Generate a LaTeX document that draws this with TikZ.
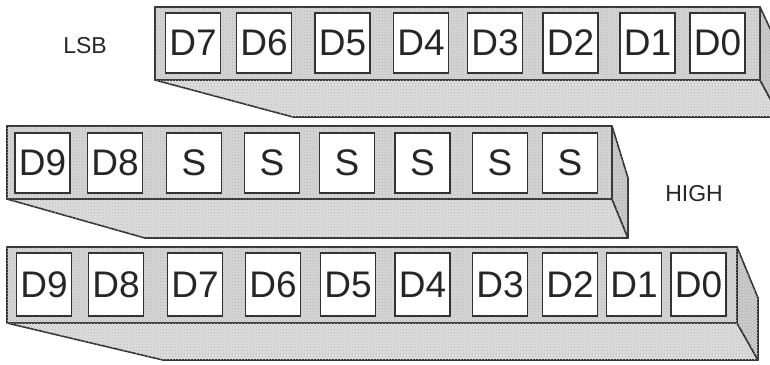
\documentclass[tikz,border=0pt]{standalone}
\usepackage{fontspec}
\setmainfont{Liberation Sans}
\usetikzlibrary{patterns}
\begin{document}
\begin{tikzpicture}[x=1pt,y=-1pt,
  face/.style={draw=black!80,line width=1.6pt,line join=round,fill=black!16,postaction={pattern=crosshatch dots,pattern color=black!30}},
  bface/.style={draw=black!80,line width=1.6pt,line join=round,fill=black!13,postaction={pattern=crosshatch dots,pattern color=black!28}},
  sface/.style={draw=black!80,line width=1.6pt,line join=round,fill=black!20,postaction={pattern=crosshatch dots,pattern color=black!35}},
  bit/.style={draw=black!80,line width=1.5pt,fill=white,text=black!85,minimum width=55pt,inner sep=0pt,font=\fontsize{37}{37}\selectfont},
  lbl/.style={text=black!85,font=\fontsize{23}{23}\selectfont}]
\useasboundingbox (0,0) rectangle (770,364);
\begin{scope}
\clip (0,0) rectangle (770,364);
% top bar
\draw[bface] (155,80) -- (760,80) -- (780,117) -- (293,117) -- cycle;
\draw[sface] (760,7) -- (780,50) -- (780,117) -- (760,80) -- cycle;
\draw[face] (155,7) rectangle (760,80);
% middle bar
\draw[bface] (7,199) -- (612,199) -- (628,238) -- (145,238) -- cycle;
\draw[sface] (612,126) -- (628,178) -- (628,238) -- (612,199) -- cycle;
\draw[face] (7,126) rectangle (612,199);
% bottom bar
\draw[bface] (7,323) -- (737,323) -- (758,360) -- (163,360) -- cycle;
\draw[sface] (737,247) -- (758,298) -- (758,360) -- (737,323) -- cycle;
\draw[face] (7,247) rectangle (737,323);
\end{scope}
% top boxes
\begin{scope}[every node/.append style={bit,minimum height=60pt}]
\node (t7) at (193,43) {D7};
\node (t6) at (264,43) {D6};
\node (t5) at (342.5,43) {D5};
\node (t4) at (421,43) {D4};
\node (t3) at (495,43) {D3};
\node (t2) at (570.5,43) {D2};
\node (t1) at (647.5,43) {D1};
\node (t0) at (717.5,43) {D0};
\end{scope}
% middle boxes
\begin{scope}[every node/.append style={bit,minimum height=60pt}]
\node (m9) at (42.5,163) {D9};
\node (m8) at (115,163) {D8};
\node (m7) at (194,163) {S};
\node (m6) at (272,163) {S};
\node (m5) at (347,163) {S};
\node (m4) at (422.5,163) {S};
\node (m3) at (500,163) {S};
\node (m2) at (570,163) {S};
\end{scope}
% bottom boxes
\begin{scope}[every node/.append style={bit,minimum height=63pt}]
\node (b9) at (44,284.5) {D9};
\node (b8) at (116,284.5) {D8};
\node (b7) at (195,284.5) {D7};
\node (b6) at (273,284.5) {D6};
\node (b5) at (348,284.5) {D5};
\node (b4) at (422.5,284.5) {D4};
\node (b3) at (500,284.5) {D3};
\node (b2) at (570,284.5) {D2};
\node (b1) at (634,284.5) {D1};
\node (b0) at (698.5,284.5) {D0};
\end{scope}
\node[lbl] (lsb) at (85,46) {LSB};
\node[lbl] (high) at (694,194) {HIGH};
\end{tikzpicture}
\end{document}
